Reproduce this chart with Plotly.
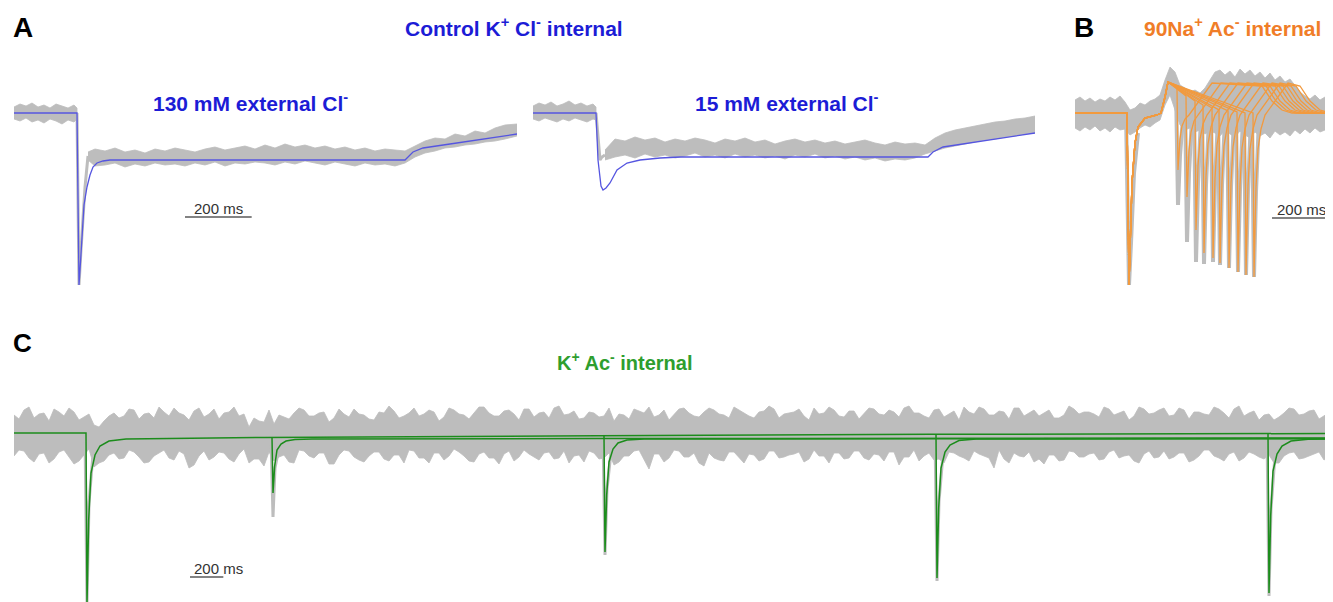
import plotly.graph_objects as go

# page is shown in a 1333x602 window; the html body has an 8 px margin
PAGE_W, PAGE_H = 1333, 602
OFF = 8
W, H = PAGE_W - OFF, PAGE_H - OFF

# ---------------- Data (time in ms, current in pA, baseline = 0) ----------------
# Panel A, 130 mM external Cl-
A1_fit_t = [0, 189, 192, 195, 199.5, 204, 210, 219, 228, 237, 249, 267, 288, 708, 1173, 1197, 1227, 1308, 1407, 1509]
A1_fit_v = [0, 0, -870, -1720, -1490, -1200, -920, -740, -620, -540, -500, -480, -470, -470, -470, -390, -350, -310, -260, -210]
A1_pre_t = [0, 18, 36, 54, 72, 90, 108, 126, 144, 162, 180, 189]
A1_pre_up = [60, 90, 70, 100, 60, 80, 50, 90, 70, 50, 80, 50]
A1_pre_lo = [-60, -80, -50, -90, -70, -100, -60, -80, -110, -70, -90, -60]
A1_post_t = [222, 243, 273, 303, 333, 363, 393, 423, 453, 483, 513, 543, 573, 603, 633, 663, 693, 723, 753, 783,
             813, 843, 873, 903, 933, 963, 993, 1023, 1053, 1083, 1113, 1143, 1173, 1203, 1233, 1263, 1293, 1323,
             1353, 1383, 1413, 1443, 1473, 1509]
A1_post_up = [-390, -360, -380, -350, -390, -370, -400, -360, -380, -350, -370, -390, -360, -340, -370, -350, -330,
              -360, -320, -350, -310, -340, -320, -350, -330, -360, -340, -370, -350, -380, -360, -370, -380, -330,
              -280, -250, -260, -210, -230, -180, -200, -150, -120, -110]
A1_post_lo = [-470, -530, -520, -500, -540, -510, -530, -500, -520, -510, -530, -500, -520, -490, -530, -500, -510,
              -490, -500, -520, -490, -510, -480, -500, -520, -490, -510, -530, -500, -520, -510, -530, -500, -440,
              -400, -380, -350, -340, -320, -310, -290, -280, -260, -230]
A1_spike_t = [189, 192, 195, 201, 207, 213, 222]
A1_spike_v = [0, -870, -1720, -1370, -1020, -740, -430]

# Panel A, 15 mM external Cl-
A2_fit_t = [0, 189, 195, 204, 210, 219, 231, 252, 282, 321, 381, 441, 1185, 1200, 1230, 1311, 1410, 1506]
A2_fit_v = [0, 0, -470, -730, -770, -750, -700, -570, -500, -470, -450, -440, -440, -390, -340, -300, -250, -200]
A2_pre_t = [0, 18, 36, 54, 72, 90, 108, 126, 144, 162, 180, 189]
A2_pre_up = [70, 100, 80, 110, 70, 90, 120, 80, 100, 70, 90, 60]
A2_pre_lo = [-60, -80, -50, -70, -90, -60, -80, -50, -70, -90, -60, -70]
A2_post_t = [216, 246, 276, 306, 336, 366, 396, 426, 456, 486, 516, 546, 576, 606, 636, 666, 696, 726, 756, 786,
             816, 846, 876, 906, 936, 966, 996, 1026, 1056, 1086, 1116, 1146, 1176, 1206, 1236, 1266, 1296, 1326,
             1356, 1386, 1416, 1446, 1476, 1506]
A2_post_up = [-370, -260, -280, -240, -270, -250, -290, -260, -280, -250, -270, -300, -260, -280, -250, -290, -270,
              -310, -280, -260, -290, -270, -300, -280, -310, -290, -270, -300, -320, -290, -310, -300, -320, -250,
              -200, -170, -150, -130, -110, -90, -80, -60, -50, -30]
A2_post_lo = [-470, -440, -420, -450, -410, -440, -420, -450, -430, -400, -440, -420, -450, -410, -440, -420, -450,
              -430, -460, -420, -440, -410, -450, -430, -460, -440, -470, -450, -480, -460, -470, -450, -410, -380,
              -350, -330, -310, -290, -270, -260, -240, -230, -210, -200]
A2_spike_t = [189, 195, 201, 207, 216]
A2_spike_v = [0, -270, -470, -440, -420]

# Panel B, 90Na+ Ac- internal (10 overlaid sweeps, paired pulses)
B_pre_t = [0, 156, 159, 162, 171, 180, 189, 210, 246, 258, 270, 279]
B_pre_v = [0, 0, -870, -1720, -700, -300, -140, -50, -20, 0, 160, 310]
B_p2_t = [306, 333, 360, 384, 411, 432, 459, 486, 510, 534]
B_p2_prev = [250, 170, 120, 80, 50, 30, 20, 10, 0, 0]
B_p2_min = [-570, -840, -1170, -1400, -1450, -1500, -1550, -1590, -1620, -1640]
B_rec1 = [-260, -380, -530, -630, -650, -680, -700, -720, -730, -740]
B_rec2 = [-130, -190, -260, -310, -320, -330, -340, -350, -360, -360]
B_rec3 = [-60, -80, -110, -140, -140, -150, -150, -160, -160, -160]
B_rec_dt = [3, 9, 15, 24, 36]
B_top_dt = 105
B_top_v = [300, 270]
B_top_end_t = [561, 573, 585, 600, 612, 624, 636, 648, 663, 675]
B_decay_dt = [30, 60, 90]
B_decay_v = [120, 30, 0]
B_gray_min = [-920, -1290, -1490, -1510, -1490, -1520, -1550, -1590, -1620, -1640]
B_gray_rec = [-420, -600, -700, -720, -700, -720, -740, -760, -780, -790]
B_spike1_t = [153, 159, 162, 168, 177, 189]
B_spike1_v = [0, -900, -1720, -1300, -600, -200]
B_band_t = [0, 15, 30, 45, 60, 75, 90, 105, 120, 135, 150, 165, 180, 195, 210, 225, 240, 255, 270, 285, 300, 315,
            330, 345, 360, 375, 390, 405, 420, 435, 450, 465, 480, 495, 510, 525, 540, 555, 570, 585, 600, 615, 630,
            645, 660, 675, 690, 705, 720, 735, 750, 765, 774]
B_band_up = [130, 160, 120, 150, 110, 140, 120, 160, 130, 170, 110, 30, 50, 100, 80, 120, 140, 180, 330, 460, 410,
             280, 250, 210, 230, 200, 250, 330, 410, 430, 380, 420, 360, 440, 390, 430, 370, 410, 350, 400, 330, 370,
             310, 340, 270, 210, 170, 140, 180, 130, 160, 120, 140]
B_band_lo = [-150, -180, -140, -170, -130, -180, -150, -190, -140, -170, -160, -220, -190, -150, -120, -140, -100,
             -70, 80, 180, 30, -120, -170, -150, -190, -170, -210, -180, -200, -230, -170, -210, -240, -180, -220,
             -250, -190, -230, -200, -250, -180, -220, -190, -230, -170, -210, -160, -200, -150, -190, -170, -210,
             -180]

# Panel C, K+ Ac- internal
C_fits_t = [
    [0, 432, 438, 448, 462, 486, 516, 570, 672, 1500, 3500, 5500, 7914],
    [1548, 1554, 1564, 1578, 1602, 1632, 1686, 1788, 3500, 7914],
    [3540, 3546, 3556, 3570, 3594, 3624, 3678, 3780, 5500, 7914],
    [5532, 5538, 5548, 5562, 5586, 5616, 5670, 5772, 7914],
    [7524, 7530, 7540, 7554, 7578, 7608, 7662, 7764, 7914],
]
C_fits_v = [
    [0, 0, -1700, -870, -400, -220, -130, -80, -60, -45, -27, -13, -5],
    [-45, -600, -330, -170, -110, -80, -65, -60, -55, -50],
    [-27, -1190, -620, -290, -160, -100, -70, -60, -58, -55],
    [-13, -1450, -750, -350, -190, -120, -75, -60, -58],
    [-5, -1600, -830, -380, -210, -130, -80, -62, -60],
]
C_gspikes_t = [
    [426, 438, 450, 472],
    [1542, 1554, 1566, 1590],
    [3534, 3546, 3558, 3580],
    [5526, 5538, 5550, 5572],
    [7518, 7530, 7542, 7564],
]
C_gspikes_v = [
    [0, -1700, -700, -250],
    [-45, -840, -350, -150],
    [-27, -1220, -560, -220],
    [-13, -1480, -680, -250],
    [-5, -1630, -760, -270],
]
# noise envelope of the raw trace: samples on a 60 ms grid plus samples half-way between them
C_band_t = list(range(0, 7861, 60)) + [7914]
C_mid_t = list(range(30, 7831, 60)) + [7887]
C_band_up = [180, 230, 150, 200, 240, 170, 210, 160, 80, 120, 200, 170, 230, 190, 150, 210, 250, 180, 220, 160,
             240, 200, 260, 190, 150, 110, 90, 160, 200, 230, 170, 210, 150, 190, 240, 180, 130, 200, 220, 170,
             250, 190, 210, 160, 230, 180, 200, 260, 170, 220, 190, 240, 160, 210, 250, 180, 220, 150, 200, 170,
             120, 180, 240, 200, 160, 230, 190, 250, 170, 210, 230, 180, 260, 200, 150, 220, 240, 190, 210, 170,
             250, 200, 230, 160, 220, 190, 240, 180, 210, 250, 200, 170, 230, 160, 220, 260, 190, 240, 180, 210,
             250, 170, 230, 200, 150, 180, 240, 210, 190, 260, 180, 220, 170, 240, 200, 250, 180, 230, 210, 190,
             260, 200, 240, 170, 220, 180, 130, 200, 240, 190, 230, 170, 210]
C_band_lo = [-230, -180, -290, -200, -260, -170, -310, -220, -340, -280, -200, -250, -190, -300, -230, -170, -270,
             -210, -320, -180, -240, -200, -290, -160, -260, -330, -280, -220, -300, -180, -250, -200, -310, -170,
             -240, -290, -190, -260, -220, -300, -180, -250, -200, -270, -160, -230, -290, -190, -250, -210, -280,
             -170, -240, -200, -260, -180, -230, -290, -200, -250, -320, -230, -180, -260, -210, -290, -170, -240,
             -200, -330, -250, -280, -190, -300, -220, -260, -180, -240, -210, -290, -170, -230, -200, -260, -180,
             -250, -210, -280, -190, -240, -170, -230, -270, -300, -200, -250, -180, -230, -350, -260, -200, -240,
             -290, -310, -220, -270, -190, -240, -200, -260, -170, -230, -280, -210, -250, -180, -240, -200, -270,
             -170, -230, -280, -190, -250, -210, -260, -300, -230, -190, -250, -210, -270, -220]
C_mid_up = [140, 260, 190, 120, 210, 250, 130, 190, 60, 170, 150, 240,
            140, 200, 260, 170, 200, 130, 250, 190, 140, 210, 170, 60,
            120, 230, 180, 140, 250, 170, 200, 110, 240, 160, 190, 140,
            210, 270, 150, 200, 170, 230, 120, 250, 190, 140, 260, 200,
            170, 230, 130, 240, 200, 150, 270, 190, 140, 210, 160, 250,
            190, 140, 220, 260, 180, 130, 240, 200, 160, 250, 190, 150,
            230, 170, 210, 270, 150, 200, 240, 130, 190, 260, 170, 220,
            140, 250, 190, 230, 160, 270, 200, 150, 240, 190, 130, 210,
            260, 180, 220, 140, 250, 200, 170, 230, 150, 270, 190, 210,
            160, 240, 200, 130, 260, 190, 230, 170, 250, 140, 210, 180,
            240, 150, 270, 200, 130, 190, 160, 250, 180, 220, 140, 200]
C_mid_lo = [-170, -250, -210, -300, -190, -240, -280, -160, -300, -220, -260, -170,
            -240, -290, -200, -250, -180, -350, -230, -270, -190, -260, -210, -300,
            -260, -190, -240, -290, -170, -230, -200, -310, -220, -180, -270, -230,
            -190, -280, -220, -170, -250, -300, -200, -230, -190, -280, -210, -250,
            -310, -180, -240, -210, -270, -190, -250, -300, -220, -180, -260, -200,
            -290, -230, -170, -360, -210, -250, -180, -240, -300, -200, -270, -190,
            -240, -210, -280, -180, -250, -220, -190, -260, -230, -300, -200, -250,
            -180, -270, -220, -190, -320, -240, -280, -200, -260, -190, -230, -280,
            -210, -250, -170, -300, -230, -190, -260, -220, -280, -180, -240, -210,
            -270, -190, -250, -220, -300, -180, -240, -260, -200, -290, -230, -170,
            -250, -210, -280, -190, -240, -220, -300, -200, -260, -230, -190, -240]

SCALE_MS = 200

# ---------------- Styling ----------------
GRAY = "#bdbdbd"
BLUE_FIT = "#5555e0"
ORANGE_FIT = "#f29a3e"
GREEN_FIT = "#1c8c1c"
FONT = "Liberation Sans, Arial, sans-serif"

fig = go.Figure()


def band(t, up, lo, ax):
    fig.add_trace(go.Scatter(x=list(t) + list(t)[::-1], y=list(up) + list(lo)[::-1], fill="toself",
                             fillcolor=GRAY, mode="lines", line=dict(color=GRAY, width=0.8),
                             xaxis="x" + ax, yaxis="y" + ax, hoverinfo="skip"))


def line(t, v, ax, color, width):
    fig.add_trace(go.Scatter(x=t, y=v, mode="lines", line=dict(color=color, width=width),
                             xaxis="x" + ax, yaxis="y" + ax, hoverinfo="skip"))


def interleave(a, b):
    out = []
    for i in range(len(b)):
        out += [a[i], b[i]]
    return out + list(a[len(b):])


# Panel A1 (axis 1)
band(A1_pre_t, A1_pre_up, A1_pre_lo, "")
band(A1_post_t, A1_post_up, A1_post_lo, "")
line(A1_spike_t, A1_spike_v, "", GRAY, 3)
line(A1_fit_t, A1_fit_v, "", BLUE_FIT, 1.3)

# Panel A2 (axis 2)
band(A2_pre_t, A2_pre_up, A2_pre_lo, "2")
band(A2_post_t, A2_post_up, A2_post_lo, "2")
line(A2_spike_t, A2_spike_v, "2", GRAY, 3)
line(A2_fit_t, A2_fit_v, "2", BLUE_FIT, 1.3)

# Panel B (axis 3)
band(B_band_t, B_band_up, B_band_lo, "3")
line(B_spike1_t, B_spike1_v, "3", GRAY, 4)
for k in range(len(B_p2_t)):
    p = B_p2_t[k]
    line([p - 3, p + 3, p + 9, p + 18], [B_p2_prev[k], B_gray_min[k], B_gray_rec[k], -50], "3", GRAY, 4)
for k in range(len(B_p2_t)):
    p = B_p2_t[k]
    h = B_top_end_t[k]
    t = B_pre_t + [p] + [p + d for d in B_rec_dt] + [p + B_top_dt, h] + [h + d for d in B_decay_dt] + [800]
    v = B_pre_v + [B_p2_prev[k], B_p2_min[k], B_rec1[k], B_rec2[k], B_rec3[k], -20] + B_top_v + B_decay_v + [0]
    line(t, v, "3", ORANGE_FIT, 1.3)

# Panel C (axis 4)
band(interleave(C_band_t, C_mid_t), interleave(C_band_up, C_mid_up), interleave(C_band_lo, C_mid_lo), "4")
for t, v in zip(C_gspikes_t, C_gspikes_v):
    line(t, v, "4", GRAY, 3)
for t, v in zip(C_fits_t, C_fits_v):
    line(t, v, "4", GREEN_FIT, 1.5)


# pixel boxes below are given in page pixels
def xdom(px0, px1, r, anchor):
    return dict(domain=[(px0 - OFF) / W, (px1 - OFF) / W], range=r, visible=False, fixedrange=True, anchor=anchor)


def ydom(py0, py1, r, anchor):
    return dict(domain=[1 - (py1 - OFF) / H, 1 - (py0 - OFF) / H], range=r, visible=False, fixedrange=True,
                anchor=anchor)


fig.update_layout(
    width=W, height=H, margin=dict(l=0, r=0, t=0, b=0),
    paper_bgcolor="white", plot_bgcolor="white", showlegend=False,
    xaxis=xdom(14, 517, [0, 1509], "y"), yaxis=ydom(50, 300, [-1870, 630], "x"),
    xaxis2=xdom(533, 1035, [0, 1506], "y2"), yaxis2=ydom(50, 300, [-1870, 630], "x2"),
    xaxis3=xdom(1075, 1333, [0, 774], "y3"), yaxis3=ydom(50, 300, [-1870, 630], "x3"),
    xaxis4=xdom(14, 1333, [0, 7914], "y4"), yaxis4=ydom(380, 602, [-1690, 530], "x4"),
)

# scale bars (200 ms) drawn in data units of each panel
bars = [("x", "y", 513, -1040), ("x3", "y3", 591, -1050), ("x4", "y4", 1056, -1440)]
for xr, yr, t0, v in bars:
    fig.add_shape(type="line", xref=xr, yref=yr, x0=t0, x1=t0 + SCALE_MS, y0=v, y1=v,
                  line=dict(color="#5a5a5a", width=1.5))
SB_FONT = dict(family=FONT, size=15, color="#333333")
fig.add_annotation(x=513 + SCALE_MS / 2, y=-950, xref="x", yref="y", text="200 ms", showarrow=False, font=SB_FONT)
fig.add_annotation(x=678, y=-960, xref="x3", yref="y3", text="200 ms", showarrow=False, font=SB_FONT)
fig.add_annotation(x=1068, y=-1350, xref="x4", yref="y4", text="200 ms", showarrow=False, xanchor="left",
                   font=SB_FONT)


def label(px, py, text, size, color, anchor="center"):
    fig.add_annotation(x=(px - OFF) / W, y=1 - (py - OFF) / H, xref="paper", yref="paper", text=text,
                       showarrow=False, xanchor=anchor, yanchor="middle",
                       font=dict(family=FONT, size=size, color=color))


label(11, 27, "<b>A</b>", 28, "black", "left")
label(514, 27, "<b>Control K<sup>+</sup> Cl<sup>-</sup> internal</b>", 21, "#1c1cd6")
label(250, 102, "<b>130 mM external Cl<sup>-</sup></b>", 21, "#1c1cd6")
label(787, 102, "<b>15 mM external Cl<sup>-</sup></b>", 21, "#1c1cd6")
label(1072, 27, "<b>B</b>", 28, "black", "left")
label(1232, 27, "<b>90Na<sup>+</sup> Ac<sup>-</sup> internal</b>", 21, "#f07d28")
label(11, 343, "<b>C</b>", 26, "black", "left")
label(625, 362, "<b>K<sup>+</sup> Ac<sup>-</sup> internal</b>", 20, "#2e9e2e")

fig.write_html("out.html")
